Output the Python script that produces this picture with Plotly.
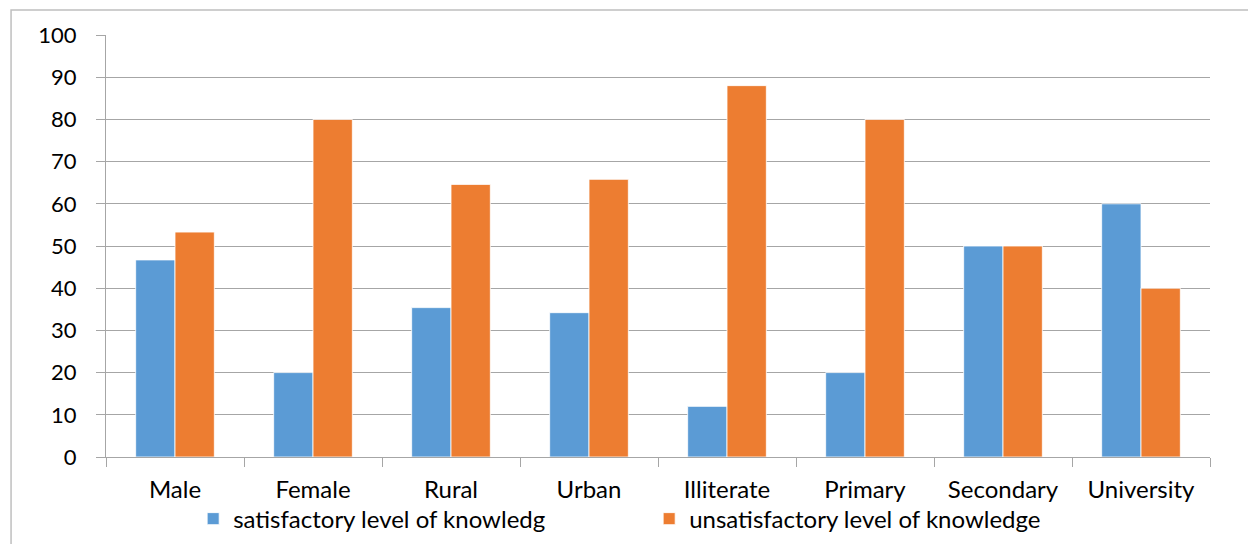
import plotly.graph_objects as go

categories = ["Male", "Female", "Rural", "Urban", "Illiterate", "Primary", "Secondary", "University"]
satisfactory = [46.7, 20, 35.4, 34.2, 12, 20, 50, 60]
unsatisfactory = [53.3, 80, 64.6, 65.8, 88, 80, 50, 40]
y_ticks = list(range(0, 101, 10))

BLUE = "#5B9BD5"
ORANGE = "#ED7D31"
GRID = "#a6a6a6"
FONT = "Lato"

fig = go.Figure()
fig.add_trace(go.Bar(
    x=categories, y=satisfactory, name="satisfactory level of knowledg",
    marker=dict(color=BLUE, line=dict(color="rgba(255,255,255,0.8)", width=1)),
))
fig.add_trace(go.Bar(
    x=categories, y=unsatisfactory, name="unsatisfactory level of knowledge",
    marker=dict(color=ORANGE, line=dict(color="rgba(255,255,255,0.8)", width=1)),
))

fig.update_layout(
    width=1248, height=544,
    margin=dict(l=106, r=38, t=35, b=87, autoexpand=False),
    paper_bgcolor="white", plot_bgcolor="white",
    barmode="group", bargap=0.43, bargroupgap=0,
    font=dict(family=FONT, size=21, color="black"),
    showlegend=True,
    legend=dict(
        orientation="h", x=0.492, xanchor="center", y=-0.147, yanchor="middle",
        bgcolor="rgba(0,0,0,0)",
        font=dict(family=FONT, size=24, color="black"),
        entrywidth=411, itemwidth=30, traceorder="normal",
    ),
    xaxis=dict(
        showgrid=False, showline=True, linecolor=GRID, linewidth=1,
        ticks="outside", ticklen=9, tickcolor=GRID, tickson="boundaries",
        tickfont=dict(family=FONT, size=24, color="black"),
        ticklabelstandoff=11, automargin=False,
        fixedrange=True,
    ),
    yaxis=dict(
        range=[0, 100], tickvals=y_ticks, showgrid=True, gridcolor=GRID, gridwidth=1,
        showline=True, linecolor=GRID, linewidth=1,
        ticks="outside", ticklen=9, tickcolor=GRID,
        tickfont=dict(family=FONT, size=22, color="black"),
        ticklabelstandoff=15, automargin=False,
        zeroline=False, fixedrange=True,
    ),
    shapes=[dict(
        type="rect", xref="paper", yref="paper",
        x0=-0.086, x1=1.06, y0=-0.25, y1=1.059,
        line=dict(color="#bfbfbf", width=1.5), fillcolor="rgba(0,0,0,0)", layer="below",
    )],
)

fig.write_html("out.html")
